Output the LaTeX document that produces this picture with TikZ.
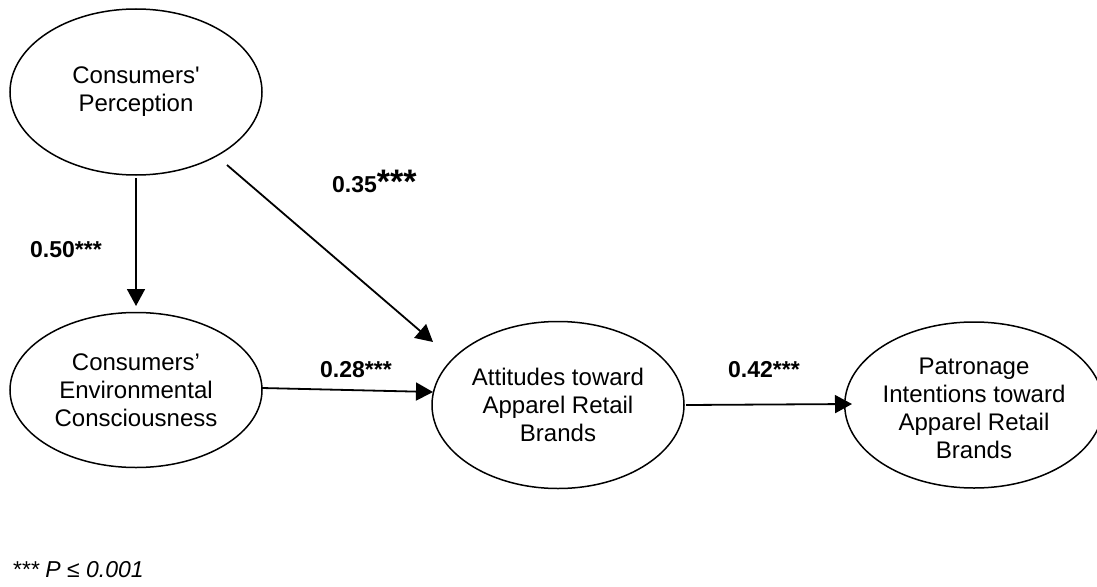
\documentclass[tikz,border=0pt]{standalone}
\usepackage{fontspec}
\setmainfont{Liberation Sans}
\newfontfamily\rawfont{Liberation Sans}
\usetikzlibrary{arrows.meta,shapes.geometric}
\begin{document}
\begin{tikzpicture}[x=1pt,y=-1pt,
  latent/.style={draw,line width=1.5pt,ellipse,inner sep=0pt,align=center,font=\fontsize{24}{28}\selectfont},
  path/.style={line width=1.8pt,-{Triangle[length=17pt,width=18pt]}},
  coef/.style={font=\fontsize{23}{26}\selectfont\bfseries,inner sep=0pt}]
\useasboundingbox (0,0) rectangle (1097,586);
\node[latent,minimum width=252pt,minimum height=166pt] (cp) at (136,92) {Consumers{\rawfont'}\\Perception};
\node[latent,minimum width=252pt,minimum height=155pt] (ec) at (136,390) {Consumers’\\Environmental\\Consciousness};
\node[latent,minimum width=252pt,minimum height=167pt] (at) at (558,405) {Attitudes toward\\Apparel Retail\\Brands};
\node[latent,minimum width=242pt,minimum height=166pt] (pi) at (974,405) {\raisebox{-6pt}[\height][\depth]{\begin{tabular}{@{}c@{}}Patronage\\Intentions toward\\Apparel Retail\\Brands\end{tabular}}};
\coordinate (a1s) at (136,178);
\coordinate (a1e) at (136,306);
\draw[path] (a1s) -- (a1e);
\coordinate (a2s) at (227,165);
\coordinate (a2e) at (433,342);
\draw[path] (a2s) -- (a2e);
\coordinate (a3s) at (262,388);
\coordinate (a3e) at (433,392);
\draw[path] (a3s) -- (a3e);
\coordinate (a4s) at (686,405);
\coordinate (a4e) at (852,404);
\draw[path] (a4s) -- (a4e);
\node[coef,anchor=base west] (l35) at (332,192) {0.35\raisebox{-1pt}{\fontsize{34}{34}\selectfont***}};
\node[coef,anchor=base west] (l50) at (30,257) {0.50***};
\node[coef,anchor=base west] (l28) at (320,377) {0.28***};
\node[coef,anchor=base west] (l42) at (728,377) {0.42***};
\node[anchor=base west,inner sep=0pt,font=\fontsize{23}{26}\selectfont\itshape] (fn) at (12,577) {*** P ≤ 0.001};
\end{tikzpicture}
\end{document}
